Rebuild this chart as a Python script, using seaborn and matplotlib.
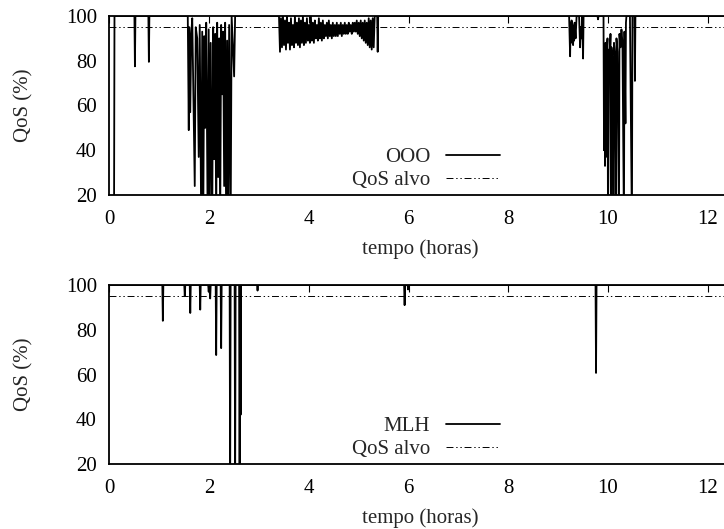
import numpy as np
import pandas as pd
import matplotlib
matplotlib.use("Agg")
import matplotlib.pyplot as plt
import seaborn as sns

# ---------------- data ----------------
# OOO series, split into segments
t_ooo_a = [0.09, 0.10, 0.50, 0.51, 0.52, 0.78, 0.79, 0.80]
q_ooo_a = [0, 100, 100, 77.5, 100, 100, 79.5, 100]

t_ooo_b = [1.57, 1.59, 1.60, 1.62, 1.64, 1.66, 1.71, 1.73, 1.76, 1.79, 1.81,
           1.84, 1.86, 1.88, 1.90, 1.92, 1.94, 1.97, 1.99, 2.01, 2.03, 2.06,
           2.08, 2.10, 2.12, 2.14, 2.16, 2.18, 2.20, 2.22, 2.24, 2.26, 2.28,
           2.30, 2.32, 2.34, 2.36, 2.38, 2.40, 2.43, 2.45, 2.50, 2.52]
q_ooo_b = [100, 49, 95, 57, 92, 99, 24, 95, 90, 37, 96,
           5, 93, 5, 91, 50, 97, 5, 94, 5, 88, 5,
           95, 36, 92, 5, 97, 28, 90, 5, 96, 65, 93,
           24, 97, 5, 89, 5, 96, 5, 100, 73, 100]

t_ooo_c = [3.40, 3.42, 3.44, 3.46, 3.48, 3.50, 3.52, 3.54, 3.56, 3.58, 3.60,
           3.62, 3.64, 3.66, 3.68, 3.70, 3.72, 3.74, 3.76, 3.78, 3.80, 3.82,
           3.84, 3.86, 3.88, 3.90, 3.92, 3.94, 3.96, 3.98, 4.00, 4.02, 4.04,
           4.06, 4.08, 4.10, 4.12, 4.14, 4.16, 4.18, 4.20, 4.22, 4.24, 4.26,
           4.28, 4.30, 4.32, 4.34, 4.36, 4.38, 4.40, 4.42, 4.44, 4.46, 4.48,
           4.50, 4.52, 4.54, 4.56, 4.58, 4.60, 4.62, 4.64, 4.66, 4.68, 4.70,
           4.72, 4.74, 4.76, 4.78, 4.80, 4.82, 4.84, 4.86, 4.88, 4.90, 4.92,
           4.94, 4.96, 4.98, 5.00, 5.02, 5.04, 5.06, 5.08, 5.10, 5.12, 5.14,
           5.16, 5.18, 5.20, 5.22, 5.24, 5.26, 5.28, 5.30, 5.32, 5.37, 5.38,
           5.39]
q_ooo_c = [100, 84, 99, 86, 100, 87, 98, 85, 100, 88, 97,
           85, 99, 87, 96, 86, 100, 88, 97, 87, 99, 86,
           98, 88, 100, 87, 97, 88, 99, 89, 96, 88, 100,
           89, 97, 88, 98, 90, 96, 89, 99, 90, 97, 89,
           98, 90, 96, 91, 97, 90, 98, 91, 96, 90, 97,
           91, 96, 91, 97, 91, 96, 92, 97, 91, 96, 92,
           97, 92, 96, 92, 97, 93, 96, 92, 97, 93, 97,
           93, 98, 92, 97, 91, 98, 90, 97, 89, 98, 88,
           97, 87, 99, 86, 98, 85, 99, 86, 100, 100, 84,
           100]

t_ooo_d = [9.22, 9.24, 9.25, 9.26, 9.27, 9.28, 9.29, 9.30, 9.31, 9.32, 9.33,
           9.35, 9.37, 9.42, 9.44, 9.45, 9.47, 9.48, 9.50, 9.51, 9.79, 9.80,
           9.81]
q_ooo_d = [100, 82, 97, 90, 98, 88, 96, 87, 95, 89, 97,
           90, 100, 100, 86, 95, 90, 100, 81, 100, 100, 98.5,
           100]

t_ooo_e = [9.91, 9.92, 9.93, 9.94, 9.95, 9.96, 9.97, 9.99, 10.00, 10.02,
           10.03, 10.05, 10.06, 10.07, 10.09, 10.11, 10.12, 10.14, 10.16,
           10.17, 10.19, 10.22, 10.23, 10.25, 10.27, 10.29, 10.32, 10.33,
           10.35, 10.36, 10.37, 10.44, 10.48, 10.49, 10.53, 10.54, 10.55]
q_ooo_e = [100, 40, 85, 33, 88, 37, 82, 90, 5, 85,
           78, 92, 5, 86, 80, 5, 88, 82, 5,
           90, 84, 5, 92, 86, 94, 88, 5, 93,
           52, 97, 100, 100, 5, 100, 100, 71, 100]

t_ooo_f = [10.56, 13.0]
q_ooo_f = [100, 100]

# MLH series
t_mlh = [0.00, 1.06, 1.07, 1.08, 1.50, 1.51, 1.52, 1.61, 1.62, 1.63, 1.81,
         1.82, 1.83, 1.98, 1.99, 2.00, 2.02, 2.03, 2.13, 2.14, 2.15, 2.23,
         2.24, 2.25, 2.41, 2.42, 2.43, 2.51, 2.52, 2.53, 2.60, 2.61, 2.62,
         2.63, 2.64, 2.96, 2.97, 2.98, 5.91, 5.92, 5.93, 5.98, 5.99, 6.00,
         9.75, 9.76, 9.77, 13.0]
q_mlh = [100, 100, 84, 100, 100, 95, 100, 100, 87.5, 100, 100,
         89, 100, 100, 97, 100, 94, 100, 100, 68.7, 100, 100,
         71.8, 100, 100, 5, 100, 100, 5, 100, 100, 5, 100,
         42, 100, 100, 97.5, 100, 100, 91, 100, 100, 98, 100,
         100, 60.7, 100, 100]

qos_target = 95
x_span = [0.0, 13.0]
x_ticks = [0, 2, 4, 6, 8, 10, 12]
y_ticks = [20, 40, 60, 80, 100]

t_ooo = t_ooo_a + t_ooo_b + t_ooo_c + t_ooo_d + t_ooo_e + t_ooo_f
q_ooo = q_ooo_a + q_ooo_b + q_ooo_c + q_ooo_d + q_ooo_e + q_ooo_f

df_ooo = pd.DataFrame({"t": t_ooo, "q": q_ooo})
df_mlh = pd.DataFrame({"t": t_mlh, "q": q_mlh})
df_tgt = pd.DataFrame({"t": x_span, "q": [qos_target, qos_target]})

# ---------------- style ----------------
sns.set_theme(style="white")
plt.rcParams["font.family"] = ["Liberation Serif", "DejaVu Serif"]
plt.rcParams["lines.scale_dashes"] = False
FS = 15

fig = plt.figure(figsize=(7.24, 5.29), dpi=100)
W, H = 724, 529
left_px = 109.5
unit_px = 49.85
ax_w = (x_span[1] - x_span[0]) * unit_px / W

panels = [
    (df_ooo, "OOO", 16, 195),
    (df_mlh, "MLH", 285, 464),
]
dash = (0, (5, 2, 1, 2, 1, 2))

for df, name, top_px, bot_px in panels:
    ax = fig.add_axes([left_px / W, 1 - bot_px / H, ax_w, (bot_px - top_px) / H])
    sns.lineplot(data=df, x="t", y="q", ax=ax, sort=False, estimator=None,
                 color="black", linewidth=1.3, label=name)
    sns.lineplot(data=df_tgt, x="t", y="q", ax=ax, sort=False, estimator=None,
                 color="black", linewidth=0.7, linestyle=dash, label="QoS alvo")
    ax.set_xlim(*x_span)
    ax.set_ylim(20, 100)
    ax.set_xticks(x_ticks)
    ax.set_yticks(y_ticks)
    ax.tick_params(axis="both", direction="in", length=5, width=0.8,
                   labelsize=FS, top=True, right=False, colors="black")
    ax.tick_params(axis="x", pad=11)
    ax.tick_params(axis="y", pad=9)
    for s in ax.spines.values():
        s.set_linewidth(1.3)
        s.set_color("black")
    ax.set_xlabel("tempo (horas)", fontsize=FS)
    ax.set_ylabel("QoS (%)", fontsize=FS)
    ax_w_px = ax_w * W
    ax_h_px = bot_px - top_px
    ax.xaxis.set_label_coords((420 - left_px) / ax_w_px, -44 / ax_h_px)
    ax.yaxis.set_label_coords((33 - left_px) / ax_w_px, 0.5)
    leg = ax.legend(loc="lower right",
                    bbox_to_anchor=((500 - left_px) / ax_w_px, 0.028),
                    frameon=False, markerfirst=False, fontsize=FS,
                    handlelength=2.6, handletextpad=0.75, labelspacing=0.15,
                    borderpad=0, borderaxespad=0)

fig.savefig("out.png", dpi=100)
